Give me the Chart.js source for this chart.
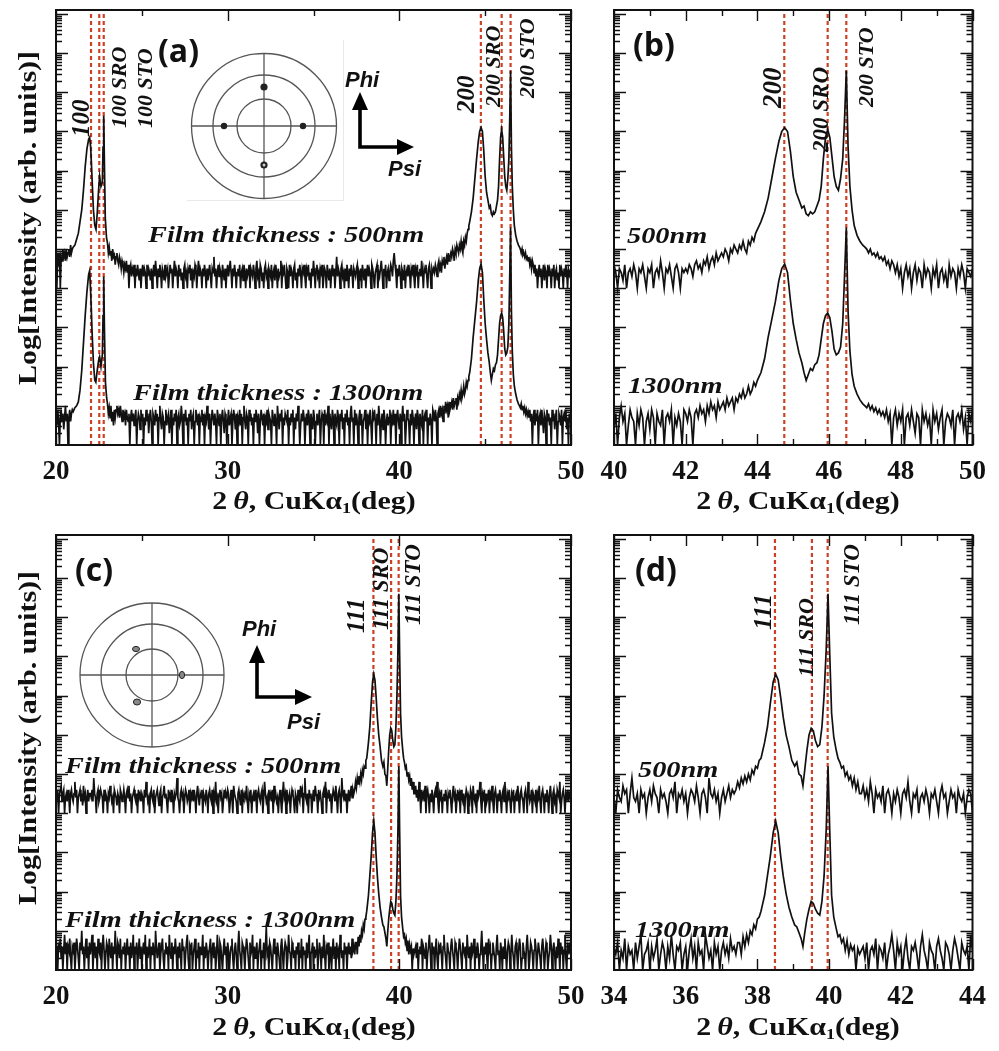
<!DOCTYPE html>
<html>
<head>
<meta charset="utf-8">
<script src="https://cdn.jsdelivr.net/npm/chart.js@4.4.1/dist/chart.umd.min.js"></script>
<style>
  html, body { margin: 0; padding: 0; background: #fff; }
  body { position: relative; width: 999px; height: 1051px; overflow: hidden; }
  canvas { position: absolute; }
  svg { position: absolute; left: 0; top: 0; }
  .txt { position: absolute; white-space: nowrap; line-height: 1; color: #111; }
  .serif { font-family: 'Liberation Serif', 'Times New Roman', serif; font-weight: bold; }
  .film { font-style: italic; font-size: 24px; transform-origin: 0 0; transform: scaleX(1.18); }
  .hkl { font-style: italic; transform-origin: 0 0; transform: rotate(-90deg); }
  .xtitle { font-size: 26px; transform: translateX(-50%) scaleX(1.15); }
  .ytitle { font-size: 25px; transform: translate(-50%, -50%) rotate(-90deg) scaleX(1.2); }
  .panel { font-family: 'Open Sans', sans-serif; font-weight: bold; font-size: 32px; }
  .dir { font-family: 'Liberation Sans', Arial, sans-serif; font-weight: bold; font-style: italic; font-size: 22px; }
  sub { font-size: 0.6em; vertical-align: -0.25em; }
</style>
</head>
<body>

<svg width="999" height="1051">
  <!-- (h00) pole figure -->
  <path d="M187 200.5 H343.5 V40" stroke="#e8e8e8" fill="none"/>
  <g fill="none" stroke="#555" stroke-width="1.3">
    <circle cx="264" cy="126" r="72.5"/>
    <circle cx="264" cy="126" r="51"/>
    <circle cx="264" cy="126" r="27"/>
    <line x1="191.5" y1="126" x2="336.5" y2="126"/>
    <line x1="264" y1="53.5" x2="264" y2="198.5"/>
  </g>
  <g fill="#222">
    <circle cx="264" cy="87" r="3.6"/>
    <circle cx="224" cy="126" r="3.2"/>
    <circle cx="303" cy="126" r="3.2"/>
    <circle cx="264" cy="165" r="3.6"/>
  </g>
  <circle cx="264" cy="165" r="1.5" fill="#ccc"/>
  <path d="M360 108 V147 H399" stroke="#000" stroke-width="3.6" fill="none"/>
  <path d="M360 92 L352 110 L368 110 Z M414 147 L397 139 L397 155 Z" fill="#000"/>

  <!-- (hhh) pole figure -->
  <g fill="none" stroke="#555" stroke-width="1.3">
    <circle cx="152" cy="675" r="72"/>
    <circle cx="152" cy="675" r="51"/>
    <circle cx="152" cy="675" r="26"/>
    <line x1="80" y1="675" x2="224" y2="675"/>
    <line x1="152" y1="603" x2="152" y2="747"/>
  </g>
  <g fill="#888" stroke="#222" stroke-width="1">
    <ellipse cx="136" cy="649" rx="3.5" ry="2.6"/>
    <ellipse cx="182" cy="675" rx="2.6" ry="3.6"/>
    <ellipse cx="137" cy="702" rx="3.6" ry="3"/>
  </g>
  <path d="M257 661 V697 H297" stroke="#000" stroke-width="3.6" fill="none"/>
  <path d="M257 645 L249 663 L265 663 Z M312 697 L295 689 L295 705 Z" fill="#000"/>
</svg>

<!-- axis titles -->
<div class="txt serif ytitle" style="left:27px;top:218px">Log[Intensity (arb. units)]</div>
<div class="txt serif ytitle" style="left:27px;top:738px">Log[Intensity (arb. units)]</div>
<div class="txt serif xtitle" style="left:314px;top:488px">2&#8201;<i>θ</i>, CuKα<sub>1</sub>(deg)</div>
<div class="txt serif xtitle" style="left:798px;top:488px">2&#8201;<i>θ</i>, CuKα<sub>1</sub>(deg)</div>
<div class="txt serif xtitle" style="left:314px;top:1014px">2&#8201;<i>θ</i>, CuKα<sub>1</sub>(deg)</div>
<div class="txt serif xtitle" style="left:798px;top:1014px">2&#8201;<i>θ</i>, CuKα<sub>1</sub>(deg)</div>

<!-- panel letters -->
<div class="txt panel" style="left:158px;top:34px">(a)</div>
<div class="txt panel" style="left:633px;top:28px">(b)</div>
<div class="txt panel" style="left:75px;top:553px">(c)</div>
<div class="txt panel" style="left:635px;top:553px">(d)</div>

<!-- scan directions -->
<div class="txt dir" style="left:345px;top:69px">Phi</div>
<div class="txt dir" style="left:388px;top:158px">Psi</div>
<div class="txt dir" style="left:242px;top:618px">Phi</div>
<div class="txt dir" style="left:287px;top:711px">Psi</div>

<!-- film thickness -->
<div class="txt serif film" style="left:148px;top:222px">Film thickness : 500nm</div>
<div class="txt serif film" style="left:133px;top:380px">Film thickness : 1300nm</div>
<div class="txt serif film" style="left:627px;top:223px">500nm</div>
<div class="txt serif film" style="left:628px;top:373px">1300nm</div>
<div class="txt serif film" style="left:65px;top:753px">Film thickness : 500nm</div>
<div class="txt serif film" style="left:65px;top:907px">Film thickness : 1300nm</div>
<div class="txt serif film" style="left:638px;top:757px">500nm</div>
<div class="txt serif film" style="left:635px;top:917px">1300nm</div>

<script>
// 2θ (deg) of the dashed reflection markers: film, SRO, STO
const linesH00 = [22.04, 22.52, 22.78, 44.75, 45.96, 46.48];
const linesH111 = [38.49, 39.52, 39.96];

// Intensities are log10 counts, in decades above the axis floor.
// Background stretches sit on the 0.05° scan grid, peak windows keep their own points.
const scanStep = 0.05;

// --- (h00) scan, 500 nm film ---
const bg500h00_20 = [4.8,4.0,4.9,4.7,4.9,4.0,4.8,4.7,5.0,4.8,4.9,4.7,5.0,4.8,4.9,5.0,4.8,5.1,4.9,5.0];
const pk500h00_100 = [
  [21.0, 5.05], [21.1, 5.1], [21.2, 5.25], [21.3, 5.4], [21.4, 5.7], [21.5, 6.0], [21.6, 6.5],
  [21.7, 7.1], [21.8, 7.55], [21.9, 7.8], [21.96, 7.85], [22.02, 7.6], [22.1, 6.8], [22.18, 6.0],
  [22.26, 5.6], [22.33, 5.5], [22.4, 5.9], [22.48, 6.5], [22.54, 6.85], [22.62, 6.6], [22.7, 6.7],
  [22.74, 7.6], [22.78, 8.4], [22.82, 7.2], [22.87, 5.8], [22.94, 5.3], [23.0, 5.15], [23.05, 4.9],
  [23.1, 5.05], [23.15, 4.85], [23.2, 4.95], [23.25, 4.7], [23.3, 5.0], [23.35, 4.8], [23.4, 4.85], [23.45, 4.6]
];
const bg500h00_235 = [
  4.8,4.9,4.7,4.6,4.8,4.7,4.5,4.7,4.6,4.4,4.6,4.5,4.7,4.4,4.6,4.0,4.5,4.6,4.3,4.5,
  4.4,4.6,4.0,4.5,4.3,4.6,4.4,4.2,4.5,4.0,4.4,4.6,4.3,4.5,4.4,4.0,4.6,4.3,4.5,4.4,
  4.2,4.5,4.0,4.4,4.6,4.3,4.7,4.4,4.0,4.5,4.3,4.6,4.4,4.0,4.5,4.4,4.2,4.6,4.3,4.4,
  4.5,4.0,4.3,4.6,4.4,4.5,4.0,4.4,4.7,4.3,4.5,4.4,4.0,4.6,4.3,4.5,4.2,4.4,4.0,4.5,
  4.6,4.3,4.4,4.0,4.5,4.4,4.6,4.2,4.5,4.0,4.4,4.3,4.6,4.5,4.0,4.4,4.7,4.3,4.5,4.4,
  4.0,4.5,4.3,4.6,4.4,4.0,4.5,4.2,4.4,4.6,4.3,4.0,4.5,4.4,4.8,4.3,4.5,4.0,4.4,4.6,
  4.3,4.5,4.4,4.0,4.6,4.4,4.2,4.5,4.0,4.4,4.6,4.3,4.5,4.7,4.4,4.0,4.5,4.3,4.6,4.4,
  4.0,4.4,4.5,4.3,4.6,4.0,4.4,4.5,4.2,4.6,4.4,4.0,4.5,4.3,4.4,4.6,4.0,4.5,4.4,4.3,
  4.6,4.4,4.0,4.5,4.7,4.3,4.4,4.0,4.6,4.5,4.2,4.4,4.0,4.5,4.6,4.3,4.4,4.0,4.5,4.4,
  4.3,4.6,4.0,4.4,4.5,4.2,4.6,4.4,4.0,4.5,4.3,4.4,4.7,4.0,4.5,4.4,4.6,4.3,4.0,4.5,
  4.4,4.0,4.6,4.3,4.5,4.4,4.0,4.5,4.6,4.2,4.4,4.0,4.5,4.3,4.6,4.4,4.0,4.5,4.4,4.6,
  4.3,4.0,4.5,4.4,4.6,4.2,4.4,4.0,4.5,4.3,4.7,4.4,4.0,4.5,4.6,4.3,4.4,4.0,4.5,4.4,
  4.6,4.0,4.3,4.5,4.4,4.0,4.6,4.4,4.2,4.5,4.0,4.4,4.6,4.3,4.5,4.0,4.4,4.8,4.3,4.5,
  4.4,4.0,4.5,4.6,4.3,4.4,4.0,4.5,4.2,4.6,4.4,4.0,4.5,4.3,4.6,4.4,4.0,4.5,4.4,4.3,
  4.5,4.6,4.0,4.4,4.3,4.5,4.0,4.6,4.4,4.2,4.5,4.0,4.4,4.6,4.3,4.5,4.4,4.0,4.6,4.5,
  4.3,4.0,4.4,4.5,4.6,4.0,4.4,4.3,4.5,4.7,4.4,4.0,4.5,4.3,4.6,4.0,4.4,4.5,4.2,4.4,
  4.6,4.5,4.3,4.7,4.9,4.6,4.4,4.0,4.5,4.3,4.6,4.4,4.0,4.5,4.4,4.2,4.6,4.0,4.4,4.5,
  4.3,4.6,4.4,4.0,4.5,4.4,4.6,4.3,4.0,4.5,4.4,4.6,4.0,4.4,4.5,4.3,4.7,4.4,4.0,4.5,
  4.4,4.6,4.3,4.0,4.5,4.6,4.4,4.0,4.5,4.4
];
const bg500h00_42 = [
  4.5,4.4,4.6,4.5,4.3,4.6,4.7,4.5,4.6,4.4,4.7,4.6,4.8,4.5,4.7,4.8,4.6,4.9,4.7,4.8,
  4.9,4.8,5.0,4.9,4.7,5.0,4.9,5.1,5.0,4.9,5.1,5.0,5.2,5.0,4.9,5.2,5.1,5.3,5.2,5.4,
  5.5,5.6
];
const pk500h00_200 = [
  [44.1, 5.7], [44.2, 5.95], [44.3, 6.3], [44.4, 6.8], [44.5, 7.3], [44.6, 7.75], [44.68, 8.0],
  [44.76, 8.1], [44.84, 8.0], [44.92, 7.5], [45.0, 6.85], [45.08, 6.45], [45.16, 6.25], [45.24, 6.05],
  [45.3, 6.1], [45.36, 5.9], [45.42, 5.85], [45.48, 5.95], [45.54, 5.9], [45.6, 5.95], [45.66, 6.1],
  [45.72, 6.25], [45.78, 6.6], [45.84, 7.3], [45.9, 7.85], [45.96, 8.05], [46.02, 7.85], [46.08, 7.35],
  [46.14, 6.85], [46.2, 6.6], [46.26, 6.5], [46.32, 6.8], [46.38, 7.3], [46.43, 8.3], [46.48, 9.55],
  [46.53, 7.6], [46.58, 6.6], [46.64, 6.0], [46.7, 5.6], [46.78, 5.35], [46.86, 5.2], [46.94, 5.1]
];
const bg500h00_47 = [
  5.05,5.0,4.9,5.0,4.85,4.9,4.8,4.9,4.75,4.8,4.7,4.8,4.6,4.7,4.5,4.7,4.6,4.4,4.6,4.3,
  4.5,4.0,4.4,4.6,4.3,4.5,4.0,4.4,4.6,4.2,4.5,4.4,4.0,4.6,4.3,4.5,4.4,4.0,4.5,4.3,
  4.6,4.0,4.4,4.5,4.2,4.4,4.0,4.6,4.3,4.5,4.4,4.0,4.5,4.3,4.6,4.4,4.0,4.5,4.4,4.3,
  4.5
];

// --- (h00) scan, 1300 nm film ---
const bg1300h00_20 = [0.8,0.5,0.9,0.6,0.0,0.7,0.9,0.6,0.8,0.4,0.7,1.0,0.6,0.8,0.0,0.7,0.9,0.6,0.8,0.9];
const pk1300h00_100 = [
  [21.0, 0.85], [21.1, 0.95], [21.2, 1.0], [21.3, 1.1], [21.4, 1.4], [21.5, 1.9], [21.6, 2.6],
  [21.7, 3.3], [21.8, 3.9], [21.9, 4.35], [21.96, 4.45], [22.02, 3.9], [22.1, 2.9], [22.18, 2.1],
  [22.26, 1.65], [22.32, 1.6], [22.4, 1.9], [22.48, 2.15], [22.54, 2.25], [22.62, 2.0], [22.7, 2.3],
  [22.74, 3.3], [22.78, 4.3], [22.82, 3.0], [22.88, 1.6], [22.95, 1.2], [23.0, 1.05], [23.05, 0.8],
  [23.1, 0.95], [23.15, 0.7], [23.2, 1.0], [23.25, 0.6], [23.3, 0.85], [23.35, 0.5], [23.4, 0.9], [23.45, 0.7]
];
const bg1300h00_235 = [
  0.9,1.0,0.8,0.9,0.7,1.0,0.8,0.6,0.9,0.7,0.8,0.5,0.9,0.7,0.6,0.8,0.0,0.7,0.9,0.6,
  0.8,0.5,0.7,0.9,0.0,0.6,0.8,0.7,0.4,0.9,0.6,0.8,0.0,0.7,0.5,0.9,0.6,0.8,0.3,0.7,
  0.9,0.6,0.0,0.8,0.7,0.5,0.9,0.6,0.8,0.0,0.7,1.0,0.6,0.4,0.8,0.7,0.0,0.6,0.9,0.5,
  0.7,0.8,0.3,0.6,0.9,0.0,0.7,0.5,0.8,0.6,0.9,0.0,0.7,0.8,0.5,0.6,1.0,0.7,0.0,0.8,
  0.6,0.9,0.5,0.7,0.0,0.8,0.6,0.9,0.4,0.7,0.8,0.0,0.6,0.9,0.7,0.5,0.8,0.0,0.7,0.6,
  0.9,0.5,0.8,0.0,0.7,0.6,1.0,0.7,0.4,0.8,0.0,0.6,0.9,0.7,0.5,0.8,0.6,0.0,0.9,0.7,
  0.5,0.8,0.0,0.7,0.9,0.6,0.3,0.8,0.7,0.0,0.6,0.9,0.5,0.7,0.8,0.0,0.6,0.9,0.7,0.4,
  0.8,0.0,0.7,0.6,0.9,0.5,0.8,0.0,0.7,1.0,0.6,0.4,0.8,0.7,0.0,0.9,0.6,0.8,0.5,0.7,
  0.0,0.8,0.6,0.9,0.7,0.3,0.8,0.0,0.6,0.9,0.7,0.5,0.8,0.0,0.7,0.6,0.9,0.4,0.8,0.7,
  0.6,0.0,0.9,0.7,0.5,0.8,0.6,0.0,1.0,0.7,0.4,0.8,0.6,0.9,0.0,0.7,0.5,0.8,0.7,0.6,
  0.9,0.0,0.7,0.5,0.8,0.6,0.9,0.0,0.7,0.4,0.8,0.6,1.0,0.7,0.0,0.5,0.8,0.6,0.9,0.7,
  0.0,0.6,0.8,0.5,0.9,0.7,0.0,0.8,0.6,0.4,0.9,0.7,0.0,0.6,0.8,0.5,0.7,0.9,0.0,0.6,
  0.8,0.7,0.0,0.9,0.5,0.7,0.6,1.0,0.0,0.8,0.6,0.4,0.9,0.7,0.0,0.8,0.6,0.5,0.9,0.7,
  0.0,0.8,0.6,0.9,0.4,0.7,0.0,0.8,0.6,0.9,0.5,0.7,0.0,0.8,1.0,0.6,0.7,0.0,0.9,0.5,
  0.8,0.6,0.0,0.7,0.9,0.5,0.8,0.0,0.6,0.7,0.9,0.4,0.8,0.0,0.7,0.6,0.9,0.5,0.0,0.8,
  0.7,0.9,0.6,0.0,0.8,0.5,1.0,0.7,0.0,0.6,0.8,0.4,0.9,0.7,0.0,0.6,0.8,0.5,0.7,0.9,
  0.0,0.7,0.6,0.9,0.5,0.8,0.0,0.7,0.9,0.6,0.4,0.8,0.0,0.7,1.0,0.6,0.8,0.0,0.5,0.9,
  0.7,0.6,0.0,0.8,0.5,0.9,0.7,0.0,0.6,0.8,0.4,0.9,0.7,0.0,0.8,0.6,0.5,0.9,0.0,0.7,
  0.8,0.6,0.9,0.0,0.7,0.5,0.8,0.6,0.0,0.9
];
const bg1300h00_42 = [
  0.8,0.6,0.9,0.7,0.0,0.8,0.9,0.7,1.0,0.8,0.9,0.6,1.0,0.8,1.1,0.9,1.0,0.7,1.1,0.9,
  1.0,1.1,0.9,1.2,1.0,1.1,1.2,0.9,1.2,1.1,1.3,1.2,1.4,1.2,1.3,1.5,1.3,1.4,1.6,1.5,
  1.65,1.75
];
const pk1300h00_200 = [
  [44.1, 1.85], [44.2, 2.2], [44.3, 2.75], [44.4, 3.2], [44.5, 3.65], [44.6, 4.2], [44.68, 4.5],
  [44.76, 4.62], [44.84, 4.4], [44.92, 3.7], [45.0, 3.1], [45.08, 2.7], [45.16, 2.35], [45.24, 2.1],
  [45.3, 1.85], [45.36, 1.65], [45.42, 1.8], [45.48, 1.95], [45.54, 1.9], [45.6, 2.05], [45.66, 2.1],
  [45.72, 2.3], [45.78, 2.7], [45.84, 3.1], [45.9, 3.3], [45.96, 3.37], [46.02, 3.25], [46.08, 2.9],
  [46.14, 2.45], [46.2, 2.3], [46.26, 2.35], [46.32, 2.5], [46.38, 3.1], [46.43, 4.3], [46.48, 5.55],
  [46.53, 3.4], [46.58, 2.4], [46.64, 1.8], [46.7, 1.5], [46.78, 1.3], [46.86, 1.15], [46.94, 1.05]
];
const bg1300h00_47 = [
  1.0,0.95,1.05,0.9,1.0,0.85,0.95,0.8,0.9,0.75,0.85,0.7,0.9,0.6,0.8,0.0,0.7,0.9,0.5,0.8,
  0.6,0.9,0.0,0.7,0.8,0.5,0.9,0.6,0.3,0.8,0.7,0.0,0.9,0.6,0.8,0.5,0.7,0.0,0.9,0.6,
  0.8,0.4,0.7,0.9,0.0,0.6,0.8,0.7,0.5,0.9,0.0,0.7,0.8,0.6,0.9,0.4,0.7,0.0,0.8,0.6,
  0.9
];

// --- (hhh) scan, 500 nm film ---
const bg500h111_20 = [
  4.6,4.4,4.5,4.0,4.5,4.6,4.7,4.3,4.5,4.6,4.0,4.4,4.5,4.3,4.6,4.4,4.0,4.5,4.6,4.4,
  4.3,4.5,4.8,4.4,4.6,4.0,4.4,4.5,4.6,4.3,4.5,4.2,4.7,4.4,4.5,4.0,4.4,4.6,4.3,4.5,
  4.5,4.4,4.6,4.3,4.9,4.5,4.4,4.0,4.5,4.6,4.3,4.4,4.6,4.5,4.4,4.0,4.6,4.3,4.5,4.4,
  4.0,4.5,4.4,4.7,4.5,4.3,4.4,4.0,4.6,4.5,4.4,4.2,4.5,4.4,4.0,4.6,4.5,4.3,4.4,4.6,
  4.4,4.0,4.5,4.6,4.4,4.7,4.3,4.5,4.0,4.4,4.5,4.6,4.4,4.3,4.5,4.0,4.6,4.4,4.5,4.3,
  4.5,4.4,4.0,4.6,4.4,4.8,4.5,4.3,4.4,4.0,4.5,4.6,4.4,4.3,4.6,4.0,4.4,4.5,4.6,4.4,
  4.2,4.5,4.6,4.0,4.4,4.5,4.7,4.4,4.5,4.3,4.0,4.6,4.4,4.5,4.3,4.6,4.4,4.0,4.5,4.4,
  4.5,4.9,4.4,4.3,4.0,4.5,4.6,4.4,4.5,4.0,4.4,4.6,4.5,4.3,4.4,4.6,4.0,4.5,4.4,4.6,
  4.3,4.6,4.4,4.0,4.5,4.7,4.4,4.2,4.5,4.4,4.6,4.0,4.5,4.4,4.3,4.6,4.4,4.0,4.5,4.6,
  4.4,4.3,4.6,4.0,4.5,4.4,4.8,4.3,4.4,4.0,4.5,4.6,4.4,4.5,4.0,4.3,4.6,4.4,4.5,4.4,
  4.6,4.5,4.0,4.3,4.6,4.4,4.0,4.7,4.5,4.4,4.3,4.0,4.5,4.6,4.4,4.2,4.6,4.0,4.5,4.4,
  4.5,4.4,4.7,4.3,4.0,4.5,4.4,4.6,4.0,4.4,4.5,4.3,4.6,4.4,4.0,4.5,4.6,4.4,4.3,4.5,
  4.6,4.0,4.4,4.8,4.5,4.3,4.4,4.0,4.6,4.4,4.5,4.3,4.6,4.0,4.7,4.4,4.5,4.3,4.4,4.0,
  4.4,4.6,4.3,4.0,4.5,4.8,4.4,4.5,4.0,4.6,4.3,4.4,4.5,4.0,4.4,4.6,4.5,4.3,4.0,4.5,
  4.4,4.0,4.6,4.4,4.3,4.7,4.5,4.6,4.0,4.5,4.9,4.4,4.3,4.5,4.0,4.6,4.4,4.5,4.0,4.4,
  4.6,4.3,4.7,4.5,4.4,4.0,4.6,4.4,4.5,4.3,4.0,4.5,4.6,4.4,4.8,4.0,4.5,4.4,4.6,4.3,
  4.5,4.0,4.4,4.6,4.5,4.3,4.7,4.4,4.0,4.5,4.6,4.4,4.0,4.9,4.5,4.4,4.6,4.3,4.5,4.0,
  4.4,4.6,4.3,4.5,4.7,4.4,4.6,4.5,4.6,4.8
];
const pk500h111 = [
  [37.5, 4.65], [37.55, 4.9], [37.6, 4.75], [37.65, 4.95], [37.7, 4.8], [37.75, 5.0], [37.8, 4.85],
  [37.85, 5.1], [37.9, 5.0], [37.95, 5.2], [38.0, 5.15], [38.05, 5.35], [38.1, 5.4], [38.15, 5.6],
  [38.2, 5.8], [38.28, 6.2], [38.36, 6.8], [38.44, 7.35], [38.51, 7.55], [38.58, 7.4], [38.65, 6.95],
  [38.72, 6.45], [38.8, 6.0], [38.88, 5.7], [38.96, 5.35], [39.04, 5.2], [39.1, 5.3], [39.16, 5.0],
  [39.22, 4.95], [39.27, 4.7], [39.32, 5.1], [39.38, 5.6], [39.44, 6.0], [39.5, 6.17], [39.56, 6.1],
  [39.62, 5.85], [39.68, 5.7], [39.74, 5.75], [39.8, 6.2], [39.86, 7.0], [39.92, 8.2], [39.97, 9.6],
  [40.02, 8.0], [40.07, 6.55], [40.13, 5.95], [40.2, 5.6], [40.25, 5.4], [40.3, 5.3], [40.35, 5.15],
  [40.4, 5.2], [40.45, 4.95], [40.5, 5.05], [40.55, 4.85], [40.6, 4.95], [40.65, 4.7], [40.7, 4.9],
  [40.75, 4.6], [40.8, 4.8], [40.85, 4.5]
];
const bg500h111_409 = [
  4.5,4.7,4.4,4.6,4.3,4.8,4.5,4.0,4.6,4.4,4.5,4.3,4.7,4.0,4.5,4.6,4.4,4.0,4.5,4.3,
  4.6,4.4,4.0,4.5,4.6,4.4,4.8,4.3,4.0,4.5,4.4,4.6,4.0,4.4,4.5,4.3,4.6,4.4,4.0,4.5,
  4.4,4.6,4.3,4.0,4.5,4.7,4.4,4.5,4.0,4.3,4.6,4.4,4.5,4.0,4.6,4.4,4.3,4.5,4.0,4.4,
  4.6,4.5,4.0,4.4,4.3,4.6,4.5,4.0,4.7,4.4,4.3,4.5,4.0,4.6,4.4,4.5,4.8,4.3,4.0,4.5,
  4.4,4.6,4.0,4.5,4.3,4.4,4.6,4.0,4.5,4.4,4.7,4.3,4.0,4.5,4.6,4.4,4.0,4.5,4.3,4.6,
  4.4,4.0,4.5,4.6,4.3,4.8,4.4,4.0,4.5,4.4,4.6,4.3,4.0,4.5,4.4,4.6,4.0,4.4,4.5,4.3,
  4.7,4.4,4.0,4.5,4.6,4.4,4.3,4.0,4.5,4.6,4.4,4.0,4.8,4.5,4.3,4.4,4.6,4.0,4.5,4.4,
  4.3,4.6,4.0,4.5,4.4,4.7,4.3,4.0,4.5,4.6,4.4,4.0,4.5,4.3,4.6,4.4,4.0,4.5,4.7,4.4,
  4.0,4.5,4.6,4.3,4.4,4.0,4.6,4.5,4.4,4.8,4.0,4.3,4.5,4.6,4.4,4.0,4.5,4.4,4.6,4.3,
  4.5,4.4,4.6
];

// --- (hhh) scan, 1300 nm film ---
const bg1300h111_20 = [
  0.6,0.4,0.0,0.7,0.5,0.8,0.3,0.6,0.0,0.5,0.9,0.4,0.7,0.0,0.6,0.5,0.8,0.3,0.0,0.6,
  0.5,0.7,0.0,0.4,0.8,0.6,0.3,0.0,0.7,0.5,1.0,0.4,0.6,0.0,0.5,0.8,0.3,0.6,0.0,0.7,
  0.4,0.6,0.9,0.0,0.5,0.7,0.3,0.6,0.0,0.8,0.5,0.4,0.7,0.0,0.6,0.9,0.5,0.0,0.4,0.7,
  0.6,0.0,0.8,0.5,0.3,0.7,0.0,0.6,0.4,1.0,0.5,0.0,0.7,0.6,0.3,0.8,0.0,0.5,0.6,0.4,
  0.7,0.0,0.5,0.8,0.4,0.6,0.0,0.7,0.3,0.5,0.9,0.0,0.6,0.4,0.7,0.0,0.5,0.8,0.3,0.6,
  0.0,0.5,0.7,0.4,0.9,0.0,0.6,0.3,0.5,0.8,0.0,0.6,0.4,0.7,0.5,0.0,1.0,0.6,0.3,0.5,
  0.7,0.0,0.4,0.6,0.8,0.3,0.0,0.5,0.7,0.4,0.6,0.0,0.9,0.5,0.3,0.7,0.0,0.6,0.4,0.8,
  0.5,0.0,0.6,0.3,0.7,0.4,0.0,0.8,0.5,0.6,0.0,0.4,0.7,0.9,0.3,0.0,0.6,0.5,0.7,0.0,
  0.4,0.6,0.8,0.0,0.5,0.3,0.7,0.0,0.6,0.4,0.5,0.9,0.0,0.6,0.3,0.7,0.5,0.0,0.4,0.6,
  0.8,0.0,0.5,0.7,0.3,0.6,0.0,0.4,0.9,0.5,0.0,0.7,0.6,0.3,0.0,0.5,0.8,0.4,0.6,0.0,
  0.7,0.5,0.0,0.4,0.6,0.8,0.3,0.0,0.5,0.7,0.4,0.0,0.6,1.0,0.5,0.3,0.0,0.7,0.6,0.4,
  0.0,0.5,0.8,0.6,0.3,0.0,0.7,0.4,0.5,0.9,0.0,0.6,0.3,0.5,0.7,0.0,0.4,0.6,0.8,0.0,
  0.5,0.3,0.7,0.0,0.6,1.1,0.4,0.5,0.0,0.7,0.6,0.3,0.0,0.5,0.8,0.4,0.6,0.0,0.7,0.5,
  0.3,0.0,0.6,0.8,0.4,0.0,0.5,0.7,0.6,0.0,0.3,0.9,0.5,0.4,0.0,0.7,0.6,0.3,0.5,0.0,
  0.6,0.4,0.7,0.0,0.5,0.3,0.8,0.0,0.6,0.4,0.5,0.0,0.7,0.3,0.6,0.9,0.0,0.4,0.5,0.7,
  0.0,0.6,0.3,0.5,0.8,0.0,0.4,0.7,0.5,0.0,0.6,0.3,0.9,0.4,0.0,0.6,0.5,0.7,0.0,0.4,
  0.6,0.0,0.5,0.8,0.3,0.6,0.0,0.7,0.4,0.5,0.0,0.9,0.6,0.3,0.5,0.0,0.7,0.4,0.6,0.0,
  0.5,0.7,0.4,0.6,0.3,0.8,0.5,0.6,0.4,0.7
];
const pk1300h111 = [
  [37.5, 0.7], [37.55, 0.4], [37.6, 0.85], [37.65, 0.6], [37.7, 0.9], [37.75, 0.7], [37.8, 1.0],
  [37.85, 0.9], [37.9, 1.15], [37.95, 1.05], [38.0, 1.3], [38.05, 1.35], [38.1, 1.5], [38.15, 1.7],
  [38.2, 1.9], [38.28, 2.4], [38.36, 2.9], [38.44, 3.5], [38.51, 3.8], [38.58, 3.5], [38.65, 2.9],
  [38.72, 2.4], [38.8, 1.95], [38.88, 1.6], [38.96, 1.35], [39.04, 1.15], [39.1, 1.1], [39.16, 0.95],
  [39.22, 0.8], [39.27, 0.6], [39.32, 0.95], [39.38, 1.3], [39.44, 1.55], [39.5, 1.75], [39.56, 1.7],
  [39.62, 1.55], [39.68, 1.45], [39.74, 1.4], [39.8, 1.75], [39.86, 2.4], [39.92, 3.6], [39.97, 5.2],
  [40.02, 3.5], [40.07, 1.9], [40.13, 1.35], [40.2, 1.05], [40.25, 0.85], [40.3, 0.9], [40.35, 0.7],
  [40.4, 0.8], [40.45, 0.5], [40.5, 0.75], [40.55, 0.4], [40.6, 0.65], [40.65, 0.5], [40.7, 0.6],
  [40.75, 0.0], [40.8, 0.55], [40.85, 0.4]
];
const bg1300h111_409 = [
  0.5,0.6,0.3,0.7,0.0,0.5,0.6,0.4,0.8,0.0,0.6,0.5,0.3,0.7,0.0,0.4,0.6,0.9,0.5,0.0,
  0.7,0.4,0.6,0.0,0.5,0.8,0.3,0.0,0.6,0.5,0.7,0.4,0.0,0.6,0.9,0.5,0.3,0.0,0.7,0.5,
  0.4,0.0,0.6,0.8,0.5,0.3,0.0,0.7,0.6,0.4,0.0,0.5,0.8,0.6,0.3,0.0,0.7,0.5,0.4,0.6,
  0.0,0.9,0.5,0.3,0.6,0.0,0.7,0.4,0.5,0.8,0.0,0.6,0.3,0.7,0.5,0.0,0.4,0.6,1.0,0.5,
  0.0,0.6,0.4,0.7,0.3,0.0,0.8,0.5,0.6,0.0,0.4,0.7,0.5,0.3,0.0,0.6,0.9,0.4,0.5,0.0,
  0.7,0.5,0.0,0.6,0.3,0.8,0.4,0.0,0.5,0.7,0.6,0.0,0.4,0.9,0.5,0.3,0.0,0.6,0.7,0.4,
  0.0,0.5,0.8,0.6,0.0,0.3,0.7,0.5,0.4,0.0,0.6,0.9,0.5,0.0,0.3,0.7,0.6,0.4,0.0,0.5,
  0.8,0.6,0.0,0.4,0.7,0.5,0.3,0.0,0.6,0.8,0.5,0.0,0.4,0.7,0.6,0.0,0.3,0.5,0.9,0.6,
  0.0,0.5,0.7,0.4,0.0,0.6,0.3,0.8,0.5,0.0,0.7,0.4,0.6,0.0,0.5,0.9,0.3,0.0,0.6,0.5,
  0.7,0.4,0.6
];

const yTop = 11.1;   // decades shown on every panel

// merge background stretches and peak windows into one sorted scan
function scan(segments, peaks) {
  const pts = [];
  for (const [start, values] of segments) {
    values.forEach((v, i) => pts.push({ x: Math.round((start + i * scanStep) * 100) / 100, y: v }));
  }
  peaks.forEach(([x, y]) => pts.push({ x, y }));
  return pts.sort((a, b) => a.x - b.x);
}

const h00_500 = scan([[20.0, bg500h00_20], [23.5, bg500h00_235], [42.0, bg500h00_42], [47.0, bg500h00_47]],
                     pk500h00_100.concat(pk500h00_200));
const h00_1300 = scan([[20.0, bg1300h00_20], [23.5, bg1300h00_235], [42.0, bg1300h00_42], [47.0, bg1300h00_47]],
                      pk1300h00_100.concat(pk1300h00_200));
const h111_500 = scan([[20.0, bg500h111_20], [40.9, bg500h111_409]], pk500h111);
const h111_1300 = scan([[20.0, bg1300h111_20], [40.9, bg1300h111_409]], pk1300h111);

// log-decade tick positions for the y axis
const yMajor = [], yMinor = [];
for (let k = 0; k < Math.ceil(yTop); k++) {
  if (k > 0) yMajor.push(k);
  for (let m = 2; m <= 9; m++) {
    const v = k + Math.log10(m);
    if (v < yTop) yMinor.push(v);
  }
}

// frame with inward ticks on all four sides
const frameTicks = {
  id: 'frameTicks',
  afterDatasetsDraw(chart, args, opts) {
    const { ctx, chartArea: a, scales: { x, y } } = chart;
    ctx.save();
    ctx.strokeStyle = '#111';
    ctx.lineWidth = 1.4;
    ctx.beginPath();
    const n = Math.round((x.max - x.min) / opts.xMinor);
    for (let i = 0; i <= n; i++) {
      const v = x.min + i * opts.xMinor;
      const px = Math.round(x.getPixelForValue(v)) + 0.5;
      const len = Math.abs(v / opts.xMajor - Math.round(v / opts.xMajor)) < 1e-6 ? 11 : 6;
      ctx.moveTo(px, a.bottom); ctx.lineTo(px, a.bottom - len);
      ctx.moveTo(px, a.top); ctx.lineTo(px, a.top + len);
    }
    const yTick = (v, len) => {
      const py = Math.round(y.getPixelForValue(v)) + 0.5;
      ctx.moveTo(a.left, py); ctx.lineTo(a.left + len, py);
      ctx.moveTo(a.right, py); ctx.lineTo(a.right - len, py);
    };
    yMajor.forEach(v => yTick(v, 12));
    yMinor.forEach(v => yTick(v, 6));
    ctx.stroke();
    ctx.lineWidth = 2;
    ctx.strokeRect(a.left, a.top, a.width, a.height);
    ctx.restore();
  }
};

const panels = [
  { left: 16, top: 0, plotW: 515, padR: 40, min: 20, max: 50, step: 10, minor: 5, scans: [h00_500, h00_1300], lines: linesH00 },
  { left: 574, top: 0, plotW: 368, padR: 15, min: 40, max: 50, step: 2, minor: 1, scans: [h00_500, h00_1300], lines: linesH00 },
  { left: 16, top: 525, plotW: 515, padR: 40, min: 20, max: 50, step: 10, minor: 5, scans: [h111_500, h111_1300], lines: linesH111 },
  { left: 574, top: 525, plotW: 368, padR: 15, min: 34, max: 44, step: 2, minor: 1, scans: [h111_500, h111_1300], lines: linesH111 }
];

panels.forEach(p => {
  const canvas = document.createElement('canvas');
  canvas.width = p.plotW + 40 + p.padR;
  canvas.height = 435 + 10 + 60;
  canvas.style.left = p.left + 'px';
  canvas.style.top = p.top + 'px';
  document.body.insertBefore(canvas, document.body.firstChild);

  const datasets = p.lines.map(v => ({
    data: [{ x: v, y: 0 }, { x: v, y: yTop }],
    borderColor: '#cc4125',
    borderWidth: 2.2,
    borderDash: [4, 3],
    order: 2
  })).concat(p.scans.map(s => ({
    data: s,
    borderColor: '#111',
    borderWidth: 1.7,
    order: 1
  })));

  new Chart(canvas, {
    type: 'line',
    data: { datasets },
    options: {
      responsive: false,
      animation: false,
      layout: { padding: { left: 40, right: p.padR, top: 10, bottom: 0 } },
      elements: { point: { radius: 0 }, line: { tension: 0 } },
      plugins: {
        legend: { display: false },
        tooltip: { enabled: false },
        frameTicks: { xMajor: p.step, xMinor: p.minor }
      },
      scales: {
        x: {
          type: 'linear',
          min: p.min,
          max: p.max,
          afterFit: scale => { scale.height = 60; },
          grid: { display: false, drawTicks: false },
          border: { display: false },
          ticks: {
            stepSize: p.step,
            padding: 11,
            autoSkip: false,
            maxRotation: 0,
            color: '#111',
            font: { family: "'Liberation Serif', 'Times New Roman', serif", weight: 'bold', size: 27 }
          }
        },
        y: { type: 'linear', display: false, min: 0, max: yTop }
      }
    },
    plugins: [frameTicks]
  });
});

// rotated reflection labels: [text, column centre x, lower end y, font size]
const hklLabels = [
  ['100', 80, 137, 25], ['100 SRO', 119, 128, 22], ['100 STO', 145, 128, 22],
  ['200', 465, 113, 25], ['200 SRO', 493, 107, 22], ['200 STO', 527, 98, 22],
  ['200', 772, 108, 27], ['200 SRO', 820, 152, 23], ['200 STO', 866, 107, 22],
  ['111', 355, 633, 25], ['111 SRO', 380, 630, 23], ['111 STO', 412, 625, 23],
  ['111', 763, 630, 26], ['111 SRO', 806, 677, 22], ['111 STO', 851, 625, 23]
];
hklLabels.forEach(([text, cx, y, size]) => {
  const el = document.createElement('div');
  el.className = 'txt serif hkl';
  el.textContent = text;
  el.style.fontSize = size + 'px';
  el.style.left = (cx - size / 2) + 'px';
  el.style.top = y + 'px';
  document.body.appendChild(el);
});
</script>
</body>
</html>
